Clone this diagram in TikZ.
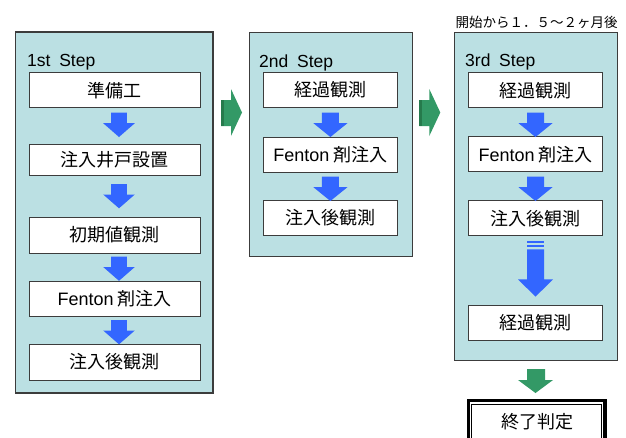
\documentclass[tikz,border=0pt]{standalone}
\usepackage{fontspec}
\setmainfont{Liberation Sans}
\newfontfamily\jp{Noto Sans CJK JP}
\definecolor{panelc}{RGB}{187,224,227}
\definecolor{bluec}{RGB}{51,102,255}
\definecolor{greenc}{RGB}{51,153,102}
\definecolor{greend}{RGB}{38,122,76}
\definecolor{edgec}{RGB}{60,60,60}
\begin{document}
\begin{tikzpicture}[x=1pt,y=-1pt,
  panel/.style={draw=edgec, line width=1.2pt, fill=panelc, inner sep=0pt},
  box/.style={draw=edgec, line width=0.9pt, fill=white, inner sep=0pt,
    font=\fontsize{18}{21}\selectfont\jp},
  steplabel/.style={anchor=base west, inner sep=0pt, font=\fontsize{17.5}{21}\selectfont},
  bluedown/.pic={\fill[bluec] (-8.5,0) -- (8.5,0) -- (8.5,10.5) -- (17,10.5)
      -- (0,24.3) -- (-17,10.5) -- (-8.5,10.5) -- cycle;},
  greenright/.pic={\fill[greenc] (0,11) -- (10,11) -- (10,0) -- (21,23.5)
      -- (10,47) -- (10,37) -- (0,37) -- cycle;
      \fill[greend] (0,11) rectangle (3,37);},
  greendown/.pic={\fill[greenc] (-8.5,0) -- (9.5,0) -- (9.5,11) -- (17.5,11)
      -- (0,24) -- (-17.5,11) -- (-8.5,11) -- cycle;}
]
\useasboundingbox (0,0) rectangle (626,437);
\clip (0,0) rectangle (626,437);

% panels
\node[panel, minimum width=197.3pt, minimum height=361pt] (p1) at (114.35,212.5) {};
\node[panel, minimum width=163pt, minimum height=224pt] (p2) at (330.8,144.7) {};
\node[panel, minimum width=162.8pt, minimum height=328.4pt] (p3) at (535.9,196.5) {};

% labels
\node[steplabel] (l1) at (27,66.7) {1st\hspace{0.5em}Step};
\node[steplabel] (l2) at (259,67) {2nd\hspace{0.5em}Step};
\node[steplabel] (l3) at (465,66.7) {3rd\hspace{0.5em}Step};
\node[inner sep=0pt, font=\fontsize{13.5}{16}\selectfont\jp] (top) at (536.5,22) {開始から１．５～２ヶ月後};

% panel 1 boxes
\node[box, minimum width=170.7pt, minimum height=35pt] (a1) at (114.7,90.2) {準備工};
\node[box, minimum width=170.7pt, minimum height=31pt] (a2) at (114.7,159.5) {注入井戸設置};
\node[box, minimum width=170.7pt, minimum height=36pt] (a3) at (114.7,235) {初期値観測};
\node[box, minimum width=170.7pt, minimum height=35pt] (a4) at (114.7,298.5) {{\rmfamily Fenton} 剤注入};
\node[box, minimum width=170.7pt, minimum height=36pt] (a5) at (114.7,362) {注入後観測};
\pic[xscale=0.93] at (119,112.7) {bluedown};
\pic[xscale=0.93] at (119,184) {bluedown};
\pic[xscale=0.93] at (119,256.5) {bluedown};
\pic[xscale=0.93] at (119,320) {bluedown};

% panel 2 boxes
\node[box, minimum width=134.5pt, minimum height=34.5pt] (b1) at (330.5,90) {経過観測};
\node[box, minimum width=134.5pt, minimum height=35pt] (b2) at (330.5,154.5) {{\rmfamily Fenton} 剤注入};
\node[box, minimum width=134.5pt, minimum height=34.5pt] (b3) at (330.5,218) {注入後観測};
\pic at (330.4,112.7) {bluedown};
\pic at (330.4,176.7) {bluedown};

% panel 3 boxes
\node[box, minimum width=134.5pt, minimum height=35pt] (c1) at (535.6,90.2) {経過観測};
\node[box, minimum width=134.5pt, minimum height=35pt] (c2) at (535.6,154.2) {{\rmfamily Fenton} 剤注入};
\node[box, minimum width=134.5pt, minimum height=35pt] (c3) at (535.6,218.2) {注入後観測};
\node[box, minimum width=134.5pt, minimum height=35pt] (c4) at (535.6,322.5) {経過観測};
\pic at (535.5,112.7) {bluedown};
\pic at (535.5,176.7) {bluedown};
% long arrow
\fill[bluec] (527,240.7) rectangle (544,242.7);
\fill[bluec] (527,245) rectangle (544,247.3);
\fill[bluec] (527,249.3) -- (544,249.3) -- (544,279.3) -- (553,279.3)
   -- (535.5,296.7) -- (518,279.3) -- (527,279.3) -- cycle;

% green arrows
\pic at (221,89) {greenright};
\pic at (419.3,89) {greenright};
\pic at (535.5,369) {greendown};

% final box
\draw[line width=3.3pt, black, fill=white] (468.3,400.7) rectangle (605,460);
\draw[line width=0.9pt, black] (471.9,404.8) rectangle (601.5,460);
\node[inner sep=0pt, font=\fontsize{18}{21}\selectfont\jp] (fin) at (537.5,421.5) {終了判定};
\end{tikzpicture}
\end{document}
